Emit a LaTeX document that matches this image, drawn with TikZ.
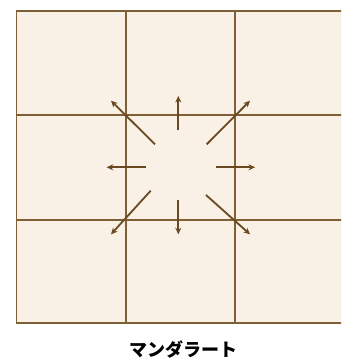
\documentclass[tikz,border=0pt]{standalone}
\usepackage{fontspec}
\newfontfamily\cjk{Noto Sans CJK JP}
\usetikzlibrary{arrows.meta}
\definecolor{cellfill}{HTML}{F9F0E6}
\definecolor{gridline}{HTML}{7F5F35}
\definecolor{arrowcol}{HTML}{6A4820}
\tikzset{
  gridstyle/.style={draw=gridline, line width=1.7pt},
  ray/.style={draw=arrowcol, line width=1.8pt, -{Stealth[length=6.5pt,width=6pt]}},
  caption/.style={font=\cjk\bfseries\fontsize{18}{20}\selectfont, text=black}
}
\begin{document}
\begin{tikzpicture}[x=1pt,y=-1pt]
\useasboundingbox (0,0) rectangle (341,359);
\begin{scope}
\clip (0,0) rectangle (341,359);
\fill[cellfill] (16.5,11) rectangle (345,323);
\draw[gridstyle] (16.5,11) rectangle (345,323);
\draw[gridstyle] (125.8,11) -- (125.8,323);
\draw[gridstyle] (235.3,11) -- (235.3,323);
\draw[gridstyle] (16.5,115.3) -- (345,115.3);
\draw[gridstyle] (16.5,219.7) -- (345,219.7);
\end{scope}
% arrows
\coordinate (nw0) at (155,144.3); \coordinate (nw1) at (111,100.7);
\coordinate (n0) at (178.3,130); \coordinate (n1) at (178.3,96);
\coordinate (ne0) at (206.7,144.3); \coordinate (ne1) at (250,100.7);
\coordinate (w0) at (145.7,167.3); \coordinate (w1) at (106.7,167.3);
\coordinate (e0) at (215.7,167.3); \coordinate (e1) at (255,167.3);
\coordinate (sw0) at (150.7,190.7); \coordinate (sw1) at (111,234.3);
\coordinate (s0) at (178.3,200); \coordinate (s1) at (178.3,234.3);
\coordinate (se0) at (206,195); \coordinate (se1) at (250,234.3);
\foreach \d in {nw,n,ne,w,e,sw,s,se}{
  \draw[ray] (\d0) -- (\d1);
}
\node[caption] (cap) at (183,350) {マンダラート};
\end{tikzpicture}
\end{document}
